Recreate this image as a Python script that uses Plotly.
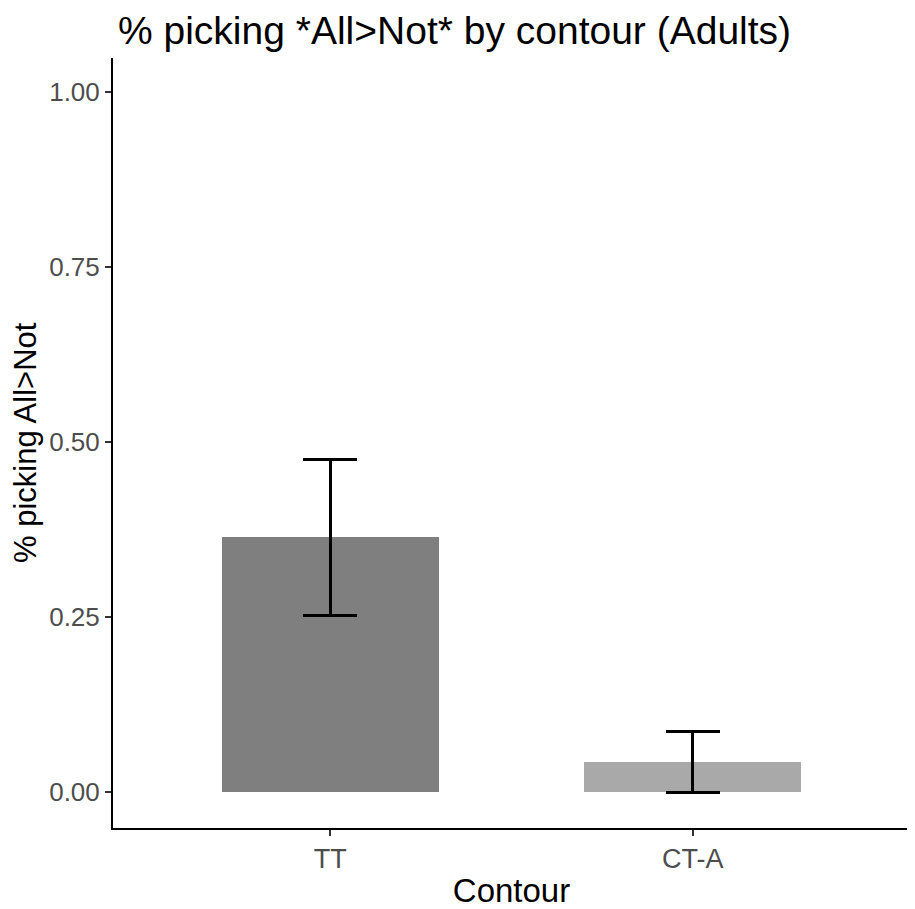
import plotly.graph_objects as go

contours = ["TT", "CT-A"]
prop_all_not = [0.364, 0.043]
err = [0.111, 0.044]
bar_colors = ["#7f7f7f", "#a9a9a9"]
y_ticks = [0.0, 0.25, 0.5, 0.75, 1.0]
y_tick_labels = ["0.00", "0.25", "0.50", "0.75", "1.00"]

# page body adds an 8px offset; figure is sized/margined to compensate
W, H = 907, 901
ML, MR, MT, MB = 105, 5, 50, 81
plot_w = W - ML - MR

fig = go.Figure()
fig.add_trace(go.Bar(
    x=[1, 2], y=prop_all_not, width=0.6,
    marker=dict(color=bar_colors, line=dict(width=0)),
    error_y=dict(type="data", array=err, visible=True, color="black", thickness=3, width=27),
    showlegend=False,
))

fig.update_layout(
    width=W, height=H,
    paper_bgcolor="white", plot_bgcolor="white",
    margin=dict(l=ML, r=MR, t=MT, b=MB),
    font=dict(family="Liberation Sans, Arial, sans-serif", color="black"),
    title=dict(text="% picking *All>Not* by contour (Adults)", x=110/W, xanchor="left",
               y=1 - 22/H, yanchor="middle", xref="container", yref="container",
               font=dict(size=39, color="black")),
    bargap=0,
)
fig.add_annotation(
    text="% picking All>Not", textangle=-90, showarrow=False,
    xref="paper", yref="paper", x=-88/plot_w, y=0.5, xanchor="center", yanchor="middle",
    font=dict(size=31, color="black"),
)
fig.update_xaxes(
    range=[0.4, 2.6], tickvals=[1, 2], ticktext=contours, automargin=False,
    showline=True, linecolor="black", linewidth=2, ticks="outside", ticklen=6,
    tickwidth=2, tickcolor="#333333", showgrid=False, zeroline=False,
    tickfont=dict(size=27, color="#4d4d4d"),
    title=dict(text="Contour", font=dict(size=33, color="black"), standoff=7),
)
fig.update_yaxes(
    range=[-0.0514, 1.049], tickvals=y_ticks, ticktext=y_tick_labels, automargin=False,
    showline=True, linecolor="black", linewidth=2, ticks="outside", ticklen=6,
    tickwidth=2, tickcolor="#333333", showgrid=False, zeroline=False,
    tickfont=dict(size=26, color="#4d4d4d"),
)

fig.write_html("out.html")
